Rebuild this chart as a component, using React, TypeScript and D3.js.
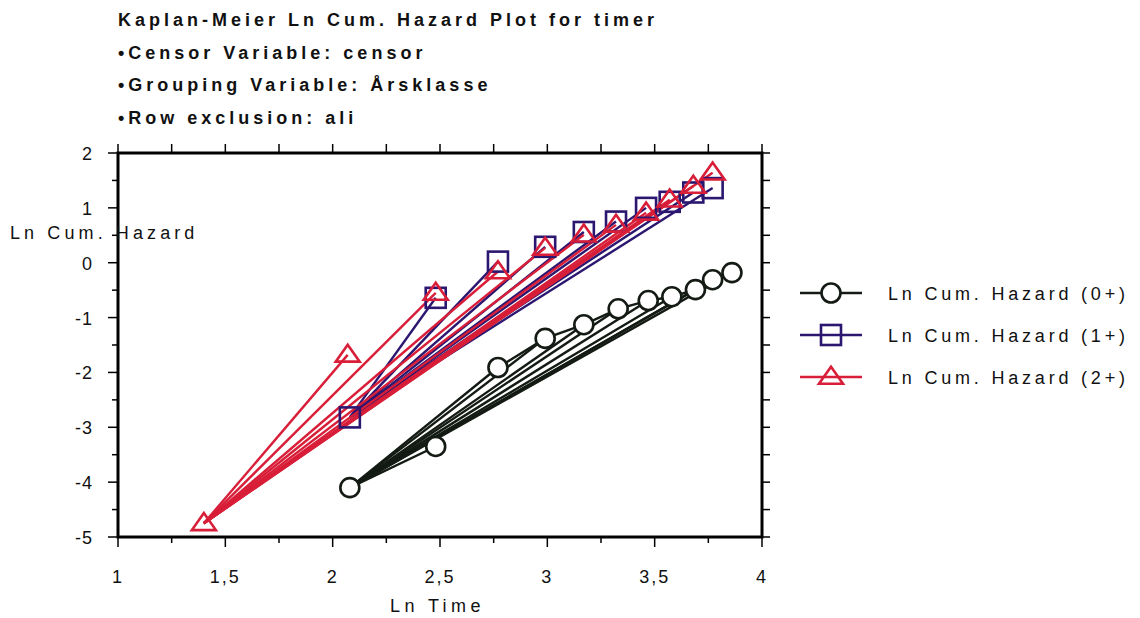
import React from 'react';
import * as d3 from 'd3';

// title lines
const titleLines = [
  'Kaplan-Meier Ln Cum. Hazard Plot for timer',
  '•Censor Variable: censor',
  '•Grouping Variable: Årsklasse',
  '•Row exclusion: ali'
];

// ln time / ln cum hazard
const x0 = [2.08, 2.48, 2.77, 2.99, 3.17, 3.33, 3.47, 3.58, 3.69, 3.77, 3.86];
const y0 = [-4.1, -3.35, -1.91, -1.38, -1.13, -0.84, -0.69, -0.62, -0.49, -0.31, -0.18];

const x1 = [2.08, 2.48, 2.77, 2.99, 3.17, 3.32, 3.46, 3.57, 3.68, 3.77];
const y1 = [-2.82, -0.64, 0.02, 0.29, 0.56, 0.75, 1.0, 1.11, 1.28, 1.36];

const x2 = [1.4, 2.07, 2.48, 2.77, 2.99, 3.17, 3.32, 3.46, 3.57, 3.68, 3.77];
const y2 = [-4.75, -1.68, -0.55, -0.16, 0.27, 0.51, 0.69, 0.91, 1.15, 1.4, 1.64];

const seriesNames = ['Ln Cum. Hazard (0+)', 'Ln Cum. Hazard (1+)', 'Ln Cum. Hazard (2+)'];

const xTicks = [1, 1.5, 2, 2.5, 3, 3.5, 4];
const yTicks = [2, 1, 0, -1, -2, -3, -4, -5];

type Series = {
  name: string;
  xs: number[];
  ys: number[];
  color: string;
  marker: 'circle' | 'square' | 'triangle';
  chainFrom: number; // -1 = no chain
};

const series: Series[] = [
  { name: seriesNames[0], xs: x0, ys: y0, color: '#141a14', marker: 'circle', chainFrom: 2 },
  { name: seriesNames[1], xs: x1, ys: y1, color: '#2b1670', marker: 'square', chainFrom: -1 },
  { name: seriesNames[2], xs: x2, ys: y2, color: '#d81e38', marker: 'triangle', chainFrom: -1 }
];

const FONT = 'Arial, "Liberation Sans", sans-serif';

const Marker: React.FC<{ kind: Series['marker']; cx: number; cy: number; color: string }> = ({ kind, cx, cy, color }) => {
  if (kind === 'circle') {
    return <circle cx={cx} cy={cy} r={9.5} fill="white" stroke={color} strokeWidth={2.6} />;
  }
  if (kind === 'square') {
    return <rect x={cx - 10} y={cy - 10} width={20} height={20} fill="none" stroke={color} strokeWidth={2.6} />;
  }
  const h = 17;
  const w = 24;
  return (
    <path
      d={`M${cx},${cy - h * 0.6} L${cx + w / 2},${cy + h * 0.4} L${cx - w / 2},${cy + h * 0.4} Z`}
      fill="none"
      stroke={color}
      strokeWidth={2.6}
      strokeLinejoin="miter"
    />
  );
};

const App: React.FC = () => {
  const width = 1140;
  const height = 618;
  const left = 118, right = 762, top = 153, bottom = 537;

  const x = d3.scaleLinear().domain([1, 4]).range([left, right]);
  const y = d3.scaleLinear().domain([-5, 2]).range([bottom, top]);

  const xMinor = d3.range(1, 4.001, 0.25);
  const yMinor = d3.range(-5, 2.001, 0.5);
  const fmt = (v: number) => String(v).replace('.', ',');

  return (
    <svg
      width={width}
      height={height}
      style={{ position: 'absolute', left: 0, top: 0, background: 'white' }}
      fontFamily={FONT}
    >
      <rect width={width} height={height} fill="white" />

      {/* title */}
      {titleLines.map((t, i) => (
        <text key={i} x={118} y={26 + i * 32.5} fontSize={18} fontWeight="bold" letterSpacing={4} fill="#111">
          {t}
        </text>
      ))}

      {/* series: fan lines from the first point, then markers */}
      {series.map((s, si) => {
        const px = s.xs.map(v => x(v));
        const py = s.ys.map(v => y(v));
        const chain = s.chainFrom >= 0
          ? d3.line()(px.slice(s.chainFrom).map((v, i) => [v, py[i + s.chainFrom]] as [number, number]))
          : null;
        return (
          <g key={si}>
            {px.slice(1).map((v, i) => (
              <line key={i} x1={px[0]} y1={py[0]} x2={v} y2={py[i + 1]} stroke={s.color} strokeWidth={2.4} />
            ))}
            {chain && <path d={chain} fill="none" stroke={s.color} strokeWidth={2.4} />}
          </g>
        );
      })}
      {series.map((s, si) => (
        <g key={'m' + si}>
          {s.xs.map((v, i) => (
            <Marker key={i} kind={s.marker} cx={x(v)} cy={y(s.ys[i])} color={s.color} />
          ))}
        </g>
      ))}

      {/* frame */}
      <rect x={left} y={top} width={right - left} height={bottom - top} fill="none" stroke="#000" strokeWidth={3} />

      {/* x ticks top & bottom */}
      {xMinor.map((v, i) => {
        const major = Math.abs(v * 2 - Math.round(v * 2)) < 1e-6;
        const len = major ? 10 : 6;
        return (
          <g key={'xt' + i}>
            <line x1={x(v)} x2={x(v)} y1={bottom} y2={bottom + len} stroke="#000" strokeWidth={1.5} />
            <line x1={x(v)} x2={x(v)} y1={top} y2={top - 9} stroke="#000" strokeWidth={1.5} />
          </g>
        );
      })}
      {/* y ticks left & right */}
      {yMinor.map((v, i) => {
        const major = Math.abs(v - Math.round(v)) < 1e-6;
        const len = major ? 10 : 6;
        return (
          <g key={'yt' + i}>
            <line x1={left - len} x2={left} y1={y(v)} y2={y(v)} stroke="#000" strokeWidth={1.5} />
            <line x1={right} x2={right + 8} y1={y(v)} y2={y(v)} stroke="#000" strokeWidth={1.5} />
          </g>
        );
      })}

      {/* tick labels */}
      {xTicks.map((v, i) => (
        <text key={'xl' + i} x={x(v)} y={583} fontSize={18} textAnchor="middle" letterSpacing={2} fill="#111">
          {fmt(v)}
        </text>
      ))}
      {yTicks.map((v, i) => (
        <text key={'yl' + i} x={93} y={y(v) + 7} fontSize={18} textAnchor="end" letterSpacing={1} fill="#111">
          {v}
        </text>
      ))}

      {/* axis titles */}
      <text x={390} y={612} fontSize={18} letterSpacing={4.4} fill="#111">Ln Time</text>
      <text x={10} y={239} fontSize={18} letterSpacing={4.1} fill="#111">Ln Cum. Hazard</text>

      {/* legend */}
      {series.map((s, i) => {
        const ly = 293 + i * 42;
        return (
          <g key={'lg' + i}>
            <line x1={800} x2={862} y1={ly} y2={ly} stroke={s.color} strokeWidth={2.4} />
            <Marker kind={s.marker} cx={831} cy={ly} color={s.color} />
            <text x={888} y={ly + 7} fontSize={18} letterSpacing={3.8} fill="#111">{s.name}</text>
          </g>
        );
      })}
    </svg>
  );
};

export default App;
